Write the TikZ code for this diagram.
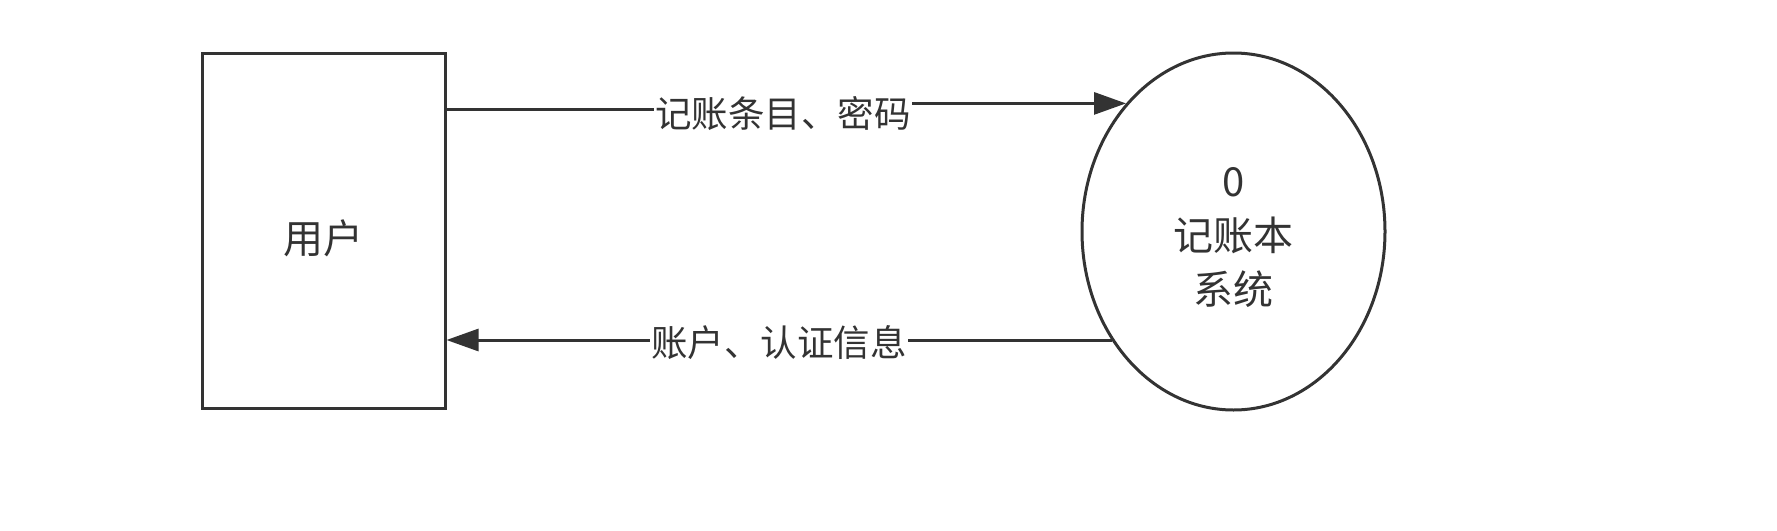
\documentclass[tikz,border=0pt]{standalone}
\usepackage{fontspec}
\setmainfont{Noto Sans CJK SC}
\usetikzlibrary{shapes.geometric,arrows.meta}
\definecolor{ink}{HTML}{333333}
\tikzset{
  box/.style={draw=ink, line width=3pt, minimum width=243pt, minimum height=355pt, inner sep=0pt, text=ink, font=\fontsize{40}{48}\selectfont},
  proc/.style={draw=ink, line width=3pt, ellipse, minimum width=303pt, minimum height=357pt, inner sep=0pt, text=ink, align=center, font=\fontsize{40}{54}\selectfont},
  lbl/.style={fill=white, inner sep=1pt, text=ink, font=\fontsize{36.5}{44}\selectfont},
  conn/.style={draw=ink, line width=3pt},
  tip/.style={-{Triangle[length=32pt,width=22pt]}}
}
\begin{document}
\begin{tikzpicture}[x=1pt,y=-1pt]
\useasboundingbox (0,0) rectangle (1777,530);
\node[box] (u) at (323.5,230.5) {};
\node[text=ink, font=\fontsize{40}{48}\selectfont] (ut) at (323.5,238) {用户};
\node[proc] (s) at (1233.5,231.5) {};
\node[text=ink, align=center, font=\fontsize{40}{54}\selectfont] (st) at (1233.5,238) {0\\记账本\\系统};
\coordinate (y1) at (0,109);
\coordinate (y2) at (0,340);
\coordinate (m1) at (783,0);
\coordinate (m2) at (779,0);
\draw[conn,tip] (u.east |- y1) -- (m1 |- y1) -- (m1 |- s.130) -- (s.130);
\draw[conn,tip] (s.222) -- (m2 |- s.222) -- (m2 |- y2) -- (u.east |- y2);
\node[lbl] (l1) at (783,114) {记账条目、密码};
\node[lbl] (l2) at (779,343) {账户、认证信息};
\end{tikzpicture}
\end{document}
